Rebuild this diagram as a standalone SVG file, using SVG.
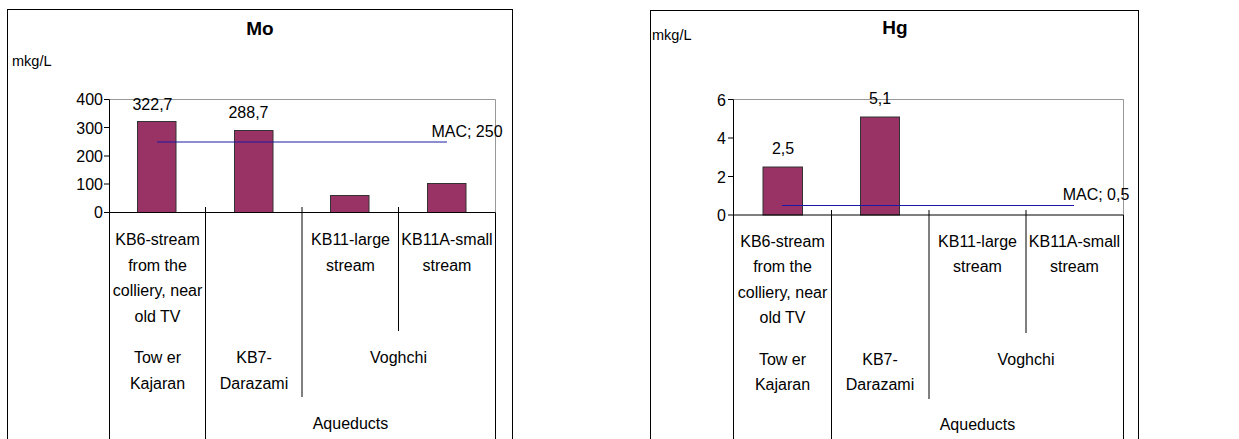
<svg xmlns="http://www.w3.org/2000/svg" width="1239" height="439" viewBox="0 0 1239 439">
<style>
text{font-family:"Liberation Sans",Arial,sans-serif;fill:#000}
.t{font-size:19px;font-weight:bold;text-anchor:middle}
.u{font-size:14.5px}
.n{font-size:16px;text-anchor:end}
.c{font-size:16px;text-anchor:middle}
.frame{fill:#fff;stroke:#000;stroke-width:1}
.grid{fill:none;stroke:#999;stroke-width:1}
.ax{stroke:#000;stroke-width:1;fill:none}
.bar{fill:#993366;stroke:#333;stroke-width:1}
.mac{stroke:#1a1aa6;stroke-width:1}
</style>
<rect width="1239" height="439" fill="#fff"/>
<g id="chart-mo">
<rect class="frame" x="7.5" y="9.5" width="505" height="440"/>
<text class="t" x="260" y="35">Mo</text>
<text class="u" x="12" y="66">mkg/L</text>
<path class="grid" d="M109.5 99.5H495.5V212.5"/>
<g id="mo-bars">
<rect class="bar" x="137.5" y="121.5" width="38.5" height="91"/>
<rect class="bar" x="234.5" y="130.5" width="38.5" height="82"/>
<rect class="bar" x="330.5" y="195.5" width="38.5" height="17"/>
<rect class="bar" x="427.5" y="183.5" width="38.5" height="29"/>
</g>
<path class="ax" d="M109.5 99.5V439M104 99.5H109.5M104 127.5H109.5M104 156H109.5M104 184H109.5M104 212.5H495.5M205.5 207V439M302 207V397M398.5 207V331M495.5 212.5V439"/>
<line class="mac" x1="157" y1="142" x2="447" y2="142"/>
<g id="mo-yaxis">
<text class="n" x="103" y="105">400</text>
<text class="n" x="103" y="133.5">300</text>
<text class="n" x="103" y="161.5">200</text>
<text class="n" x="103" y="190">100</text>
<text class="n" x="103" y="218">0</text>
</g>
<text class="c" x="152.5" y="110">322,7</text>
<text class="c" x="248.5" y="118">288,7</text>
<text class="c" x="467" y="137">MAC; 250</text>
<g id="mo-cats">
<text class="c" x="157.5" y="245">KB6-stream</text>
<text class="c" x="157.5" y="270.5">from the</text>
<text class="c" x="157.5" y="296">colliery, near</text>
<text class="c" x="157.5" y="321.5">old TV</text>
<text class="c" x="350.5" y="245">KB11-large</text>
<text class="c" x="350.5" y="270.5">stream</text>
<text class="c" x="447" y="245">KB11A-small</text>
<text class="c" x="447" y="270.5">stream</text>
<text class="c" x="157.5" y="363">Tow er</text>
<text class="c" x="157.5" y="388.5">Kajaran</text>
<text class="c" x="254" y="363">KB7-</text>
<text class="c" x="254" y="388.5">Darazami</text>
<text class="c" x="398.5" y="363">Voghchi</text>
<text class="c" x="350.5" y="429">Aqueducts</text>
</g>
</g>
<g id="chart-hg">
<rect class="frame" x="650.5" y="10.5" width="488" height="440"/>
<text class="t" x="895" y="34">Hg</text>
<text class="u" x="652" y="40">mkg/L</text>
<path class="grid" d="M733.5 99.5H1123.5V215"/>
<g id="hg-bars">
<rect class="bar" x="763" y="167" width="39.5" height="48"/>
<rect class="bar" x="860.5" y="117" width="39" height="98"/>
</g>
<path class="ax" d="M733.5 99.5V439M728 99.5H733.5M728 138H733.5M728 176.5H733.5M728 215H1123.5M831.5 210V439M929 210V399M1026 210V333M1123.5 215V439"/>
<line class="mac" x1="782" y1="205.5" x2="1074" y2="205.5"/>
<g id="hg-yaxis">
<text class="n" x="726" y="105.5">6</text>
<text class="n" x="726" y="144">4</text>
<text class="n" x="726" y="182.5">2</text>
<text class="n" x="726" y="221">0</text>
</g>
<text class="c" x="783" y="154">2,5</text>
<text class="c" x="880" y="104">5,1</text>
<text class="c" x="1096" y="200">MAC; 0,5</text>
<g id="hg-cats">
<text class="c" x="782.5" y="246.5">KB6-stream</text>
<text class="c" x="782.5" y="272">from the</text>
<text class="c" x="782.5" y="297.5">colliery, near</text>
<text class="c" x="782.5" y="323">old TV</text>
<text class="c" x="977.5" y="246.5">KB11-large</text>
<text class="c" x="977.5" y="272">stream</text>
<text class="c" x="1074.5" y="246.5">KB11A-small</text>
<text class="c" x="1074.5" y="272">stream</text>
<text class="c" x="782.5" y="365">Tow er</text>
<text class="c" x="782.5" y="390">Kajaran</text>
<text class="c" x="880" y="365">KB7-</text>
<text class="c" x="880" y="390">Darazami</text>
<text class="c" x="1026" y="365">Voghchi</text>
<text class="c" x="977.5" y="430">Aqueducts</text>
</g>
</g>
</svg>
